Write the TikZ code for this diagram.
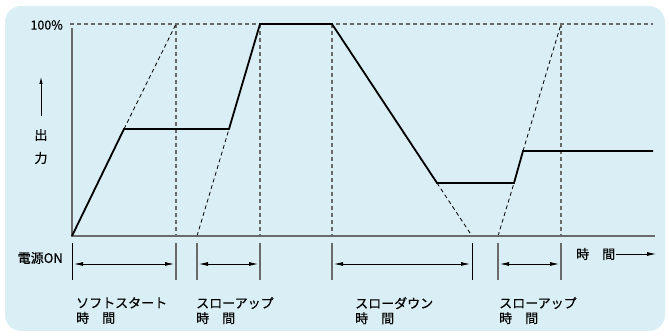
\documentclass[tikz,border=0pt]{standalone}
\usepackage{fontspec}
\setmainfont{Noto Sans CJK JP}[FakeBold=0.5]
\newfontfamily\jp{Noto Sans CJK JP}[FakeBold=0.5]
\usetikzlibrary{arrows.meta}
\definecolor{bg}{HTML}{D9EFF5}
\definecolor{ax}{HTML}{6A6A6A}
\begin{document}
\begin{tikzpicture}[x=1pt,y=-1pt,
  curve/.style={line width=1.8pt, line join=miter},
  axis/.style={ax, line width=1.3pt},
  guide/.style={ax, line width=1.1pt, dash pattern=on 4pt off 3pt},
  ext/.style={black, line width=0.8pt, dash pattern=on 4pt off 3pt},
  tick/.style={ax, line width=1.2pt},
  btick/.style={black, line width=0.9pt},
  span/.style={line width=0.8pt, {Latex[length=9pt,width=4pt]}-{Latex[length=9pt,width=4pt]}},
  lbl/.style={font=\jp\fontsize{13}{15}\selectfont, anchor=north west, align=left, inner sep=0pt},
  small/.style={font=\jp\fontsize{12.5}{14}\selectfont, inner sep=0pt}]
\useasboundingbox (0,0) rectangle (669,336);
\fill[bg, rounded corners=16pt] (5,6) rectangle (665,331);
% key points
\coordinate (O) at (72,236);
\coordinate (A) at (124,129);
\coordinate (B) at (229,129);
\coordinate (C) at (260,24);
\coordinate (D) at (332,24);
\coordinate (E) at (437,183);
\coordinate (F) at (514,183);
\coordinate (G) at (523,151);
\coordinate (H) at (653,151);
\coordinate (T0) at (70,24);
\coordinate (T1) at (653,24);
\coordinate (Yt) at (72,28);
\coordinate (Xe) at (655,236);
\coordinate (P1) at (176,24);
\coordinate (Q1) at (176,236);
\coordinate (Q2) at (197,236);
\coordinate (Q3) at (260,236);
\coordinate (Q4) at (332,236);
\coordinate (Q5) at (472,236);
\coordinate (Q6) at (498,236);
\coordinate (P7) at (561,24);
\coordinate (Q7) at (561,236);
% guides
\draw[guide] (T0) -- (T1);
\draw[guide] (P1) -- (Q1);
\draw[guide] (C) -- (Q3);
\draw[guide] (D) -- (Q4);
\draw[guide] (P7) -- (Q7);
\draw[ext] (A) -- (P1);
\draw[ext] (Q2) -- (B);
\draw[ext] (E) -- (Q5);
\draw[ext] (Q6) -- (F);
\draw[ext] (G) -- (P7);
% axes
\draw[axis] (Yt) -- (O) -- (Xe);
% curve
\draw[curve] (O) -- (A) -- (B) -- (C) -- (D) -- (E) -- (F) -- (G) -- (H);
% ticks
\foreach \x in {176,197,260,332,498,561}
  \draw[tick] (\x,243) -- (\x,280);
\foreach \x in {72,472}
  \draw[btick] (\x,243) -- (\x,280);
% spans
\coordinate (s1a) at (74,264); \coordinate (s1b) at (174,264);
\coordinate (s2a) at (199,264); \coordinate (s2b) at (258,264);
\coordinate (s3a) at (334,264); \coordinate (s3b) at (470,264);
\coordinate (s4a) at (500,264); \coordinate (s4b) at (559,264);
\draw[span] (s1a) -- (s1b);
\draw[span] (s2a) -- (s2b);
\draw[span] (s3a) -- (s3b);
\draw[span] (s4a) -- (s4b);
% labels
\node[small, anchor=east] (pct) at (63,25) {100\%};
\node[small, font=\jp\fontsize{13}{14}\selectfont, anchor=east] (on) at (63,258) {電源ON};
\node[lbl, anchor=center] (out1) at (41,135) {出};
\node[lbl, anchor=center] (out2) at (41,158) {力};
\coordinate (ua) at (41,116);
\coordinate (ub) at (41,77);
\draw[line width=0.8pt, -{Latex[length=7pt,width=3.5pt]}] (ua) -- (ub);
\node[lbl, anchor=west] (time) at (576,254) {時　間};
\coordinate (ta) at (616,254);
\coordinate (tb) at (656,254);
\draw[line width=0.8pt, -{Latex[length=9pt,width=4pt]}] (ta) -- (tb);
\node[lbl] (l1) at (76,297) {ソフトスタート\\時　間};
\node[lbl] (l2) at (196,297) {スローアップ\\時　間};
\node[lbl] (l3) at (355,297) {スローダウン\\時　間};
\node[lbl] (l4) at (499,297) {スローアップ\\時　間};
\end{tikzpicture}
\end{document}
